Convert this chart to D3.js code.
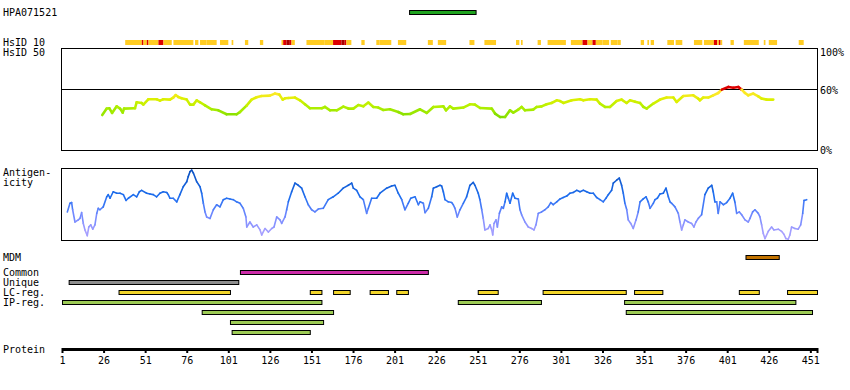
<!DOCTYPE html>
<html lang="en">
<head>
<meta charset="UTF-8">
<title>HPA071521</title>
<script src="https://cdn.jsdelivr.net/npm/d3@7"></script>
<style>
  body { margin: 0; background: #fff; }
  text { font-family: "DejaVu Sans Mono", monospace; font-size: 10px; fill: #000; }
</style>
</head>
<body>
<script>
// ---- data ----
var proteinLength = 455;
var tickValues = [1, 26, 51, 76, 101, 126, 151, 176, 201, 226, 251, 276, 301, 326, 351, 376, 401, 426, 451];

var antigenName = "HPA071521";
var antigenRange = [210, 250];

// [start, end, level] level 0 = partial, 1 = high, 2 = highest
var hsid10 = [
  [39,48,0],[49,49,1],[50,51,0],[52,52,1],[53,58,0],[59,61,1],[62,66,0],[68,79,0],[81,82,0],
  [84,87,0],[88,93,0],[96,100,0],[103,103,0],[111,112,0],[120,121,0],[133,133,0],[134,135,1],
  [136,137,2],[138,138,1],[139,140,0],[148,158,0],[159,163,0],[164,168,1],[169,170,2],[171,171,1],
  [172,174,0],[181,182,0],[190,191,0],[192,198,0],[203,207,0],[221,223,0],[227,231,0],[246,248,0],
  [255,261,0],[274,275,0],[277,277,0],[287,288,0],[293,303,0],[307,313,0],[314,316,1],[317,319,0],
  [320,321,1],[322,325,0],[326,329,0],[331,334,0],[335,336,0],[349,350,0],[353,353,0],[355,356,0],
  [365,368,0],[370,373,0],[381,385,0],[387,392,0],[393,394,1],[395,395,0],[396,396,1],[397,397,0],
  [403,404,0],[411,419,0],[423,423,0],[426,430,0],[444,446,0]
];

// identity (%) along the sequence
var identity = [
  [25.2,34.6],[27.9,40.9],[29.5,41.2],[31.1,36.6],[33.9,43.1],[35.9,40.9],[37.5,37],[38.3,40.9],
  [44.9,41.2],[45.9,47.1],[48.9,46.4],[49.9,44.8],[52.9,50],[57.9,50],[59.9,48.7],[61.9,50],
  [65.9,49.7],[67.9,51.7],[69.4,54.2],[70.9,52.3],[72.9,51],[76,49.7],[78,44.8],[80,44.8],[82,49],
  [84,47.1],[87,44.1],[91,40.2],[95,39.2],[100,35.3],[106,35.3],[108,37.5],[112,43.8],[115,49.7],
  [118,52],[121,53.2],[126,53.6],[129,55.6],[131.7,54.6],[133.7,49.7],[135.1,51],[137.1,51.3],
  [141.1,51.7],[144.1,49],[147.1,45.1],[150.1,41.2],[157.2,41.2],[159.1,42.5],[162.2,39.2],
  [166.2,39.2],[170.2,42.8],[173.2,40.9],[176.2,40.9],[179.2,44.4],[182.2,43.1],[185.2,46.8],
  [188.2,42.5],[191.2,41.9],[194.2,39.5],[198.2,40.2],[203.2,37.5],[206.2,35.3],[210.3,35.6],
  [216.3,40.2],[220.3,36.6],[224.3,42.5],[230.3,43.1],[231.9,39.2],[234.3,43.1],[236.3,40.9],
  [242.3,41.9],[246.3,45.1],[249.3,44.8],[252.4,41.5],[259.4,40.9],[261.4,36],[264.4,32.6],
  [267.4,32.6],[270.4,39.2],[272.4,37],[275.4,39.9],[277.4,42.5],[279.4,39.2],[284.4,39.9],
  [286.4,42.5],[289.4,43.1],[292.4,45.1],[295.4,46.4],[298.5,49],[300.5,48.3],[302.5,46.4],
  [307.5,49],[312.5,50],[314.5,49],[318.5,50],[322.5,49.7],[324.5,45.8],[327.5,42.5],[330.5,42.5],
  [334.5,48.3],[337.5,49.7],[340.5,46.4],[342.6,49],[345.6,47.7],[348.6,46.4],[350.6,42.5],
  [352.6,40.9],[356.6,45.8],[360.6,49.7],[364.6,51.7],[368.6,51.7],[370.6,47.4],[374.6,53.2],
  [380.6,53.9],[383.6,50.7],[384.6,49],[386.6,51.7],[389.6,51.7],[392.6,53.9],[395.6,56.2],
  [397.7,59.5],[401.7,62.1],[404.7,61.4],[407.7,62.1],[409.7,59.5],[411.7,56.2],[413.7,53.9],
  [416.7,55.6],[419.7,52.9],[421.7,50.7],[424.7,49.7],[428.7,49.7]
];

// antigenicity score (0..1)
var antigenicity = [
  [4.2,0.39],[5.8,0.51],[6.8,0.52],[7.4,0.42],[8.8,0.25],[10.8,0.28],[11.8,0.30],[12.8,0.38],
  [13.8,0.23],[14.8,0.14],[16.2,0.06],[17.1,0.18],[18.3,0.21],[19.5,0.15],[20.8,0.21],[21.9,0.37],
  [22.8,0.44],[23.8,0.42],[25.8,0.46],[27.9,0.60],[28.8,0.63],[29.9,0.58],[31.8,0.67],[33.9,0.65],
  [35.9,0.65],[37.9,0.63],[39.5,0.55],[40.9,0.58],[43.9,0.63],[45.9,0.60],[47.5,0.67],[48.9,0.69],
  [51.9,0.65],[53.9,0.64],[55.9,0.63],[57.9,0.60],[59.9,0.65],[61.9,0.67],[64,0.66],[64.9,0.63],
  [65.9,0.58],[67.9,0.58],[70,0.53],[71.9,0.63],[73.9,0.74],[76,0.81],[76.9,0.88],[78,0.95],
  [79,0.97],[80,0.93],[82,0.81],[84,0.74],[85,0.65],[86,0.51],[87,0.39],[88,0.32],[90,0.30],
  [92,0.42],[94,0.49],[96,0.46],[98,0.56],[100,0.58],[102,0.57],[104,0.56],[106,0.53],[108,0.51],
  [110,0.44],[111.6,0.32],[112.1,0.18],[114,0.25],[116,0.18],[118.1,0.21],[120.1,0.14],[121.1,0.07],
  [123.1,0.16],[125.1,0.11],[127.1,0.16],[128.5,0.18],[130.1,0.32],[132.1,0.28],[133.1,0.23],
  [135.1,0.32],[136.1,0.42],[137.1,0.53],[139.1,0.67],[141.1,0.79],[143.1,0.76],[145.1,0.72],
  [147.1,0.60],[149.1,0.49],[151.1,0.42],[153.1,0.39],[155.1,0.43],[158.1,0.44],[161.1,0.56],
  [164.1,0.60],[167.1,0.65],[170.1,0.72],[173.2,0.76],[175.2,0.79],[176.2,0.72],[178.2,0.69],
  [180.2,0.60],[182.2,0.56],[184.2,0.37],[185.2,0.44],[187.2,0.58],[190.2,0.58],[192.2,0.65],
  [196.2,0.72],[199.2,0.75],[201.2,0.76],[203.2,0.65],[205.3,0.56],[207.2,0.42],[209.2,0.51],
  [210.7,0.58],[213.3,0.60],[215.3,0.49],[216.3,0.53],[218.3,0.51],[219.3,0.38],[221.3,0.44],
  [223.3,0.60],[224.3,0.72],[226.3,0.74],[228.3,0.76],[229.3,0.75],[230.3,0.67],[231.3,0.56],
  [233.3,0.53],[235.3,0.52],[236.3,0.49],[237.3,0.44],[238.7,0.32],[240.3,0.42],[242.3,0.51],
  [244.3,0.60],[246.3,0.76],[248.3,0.80],[249.3,0.76],[251.3,0.65],[252.3,0.56],[253.4,0.42],
  [254.3,0.30],[255.3,0.14],[257.3,0.16],[258.4,0.21],[259.4,0.14],[260,0.07],[260.8,0.23],
  [262,0.28],[262.8,0.18],[264,0.37],[265.4,0.46],[266.4,0.44],[267.4,0.53],[268.4,0.65],
  [269.4,0.58],[270.4,0.51],[272,0.65],[273.4,0.58],[275.4,0.57],[276.4,0.42],[277.4,0.35],
  [279.4,0.25],[281.4,0.18],[283.4,0.16],[284.8,0.14],[286,0.21],[287.4,0.37],[289.4,0.39],
  [291.4,0.42],[293.4,0.46],[294.9,0.52],[296.4,0.49],[298.5,0.53],[300.5,0.57],[302.4,0.59],
  [304.5,0.61],[306.5,0.65],[308.4,0.66],[310.5,0.69],[312.5,0.67],[314.5,0.69],[316.5,0.67],
  [318.5,0.65],[320.5,0.65],[322.5,0.59],[324.5,0.56],[326.5,0.53],[328.1,0.58],[329.5,0.63],
  [331.5,0.69],[332.5,0.79],[334.5,0.83],[336.1,0.86],[337.5,0.76],[338.5,0.65],[339.5,0.51],
  [340.6,0.42],[341.5,0.28],[343,0.23],[344.5,0.16],[346.2,0.28],[347.5,0.39],[348.6,0.53],
  [350.5,0.57],[352.2,0.60],[353.5,0.53],[354.6,0.44],[356.6,0.51],[357.6,0.56],[359,0.58],
  [360.6,0.64],[362.6,0.65],[364.2,0.72],[365.6,0.60],[366.6,0.53],[367.6,0.51],[369.6,0.46],
  [371.6,0.37],[372.6,0.25],[373.6,0.14],[374.6,0.21],[375.6,0.28],[377.6,0.25],[379.6,0.23],
  [381,0.18],[382.2,0.25],[383.6,0.30],[385.6,0.35],[387.6,0.63],[389.6,0.72],[391.7,0.76],
  [392.6,0.67],[393.6,0.53],[394.7,0.53],[395.6,0.37],[396.7,0.53],[398.7,0.49],[400.7,0.52],
  [402.7,0.58],[404.3,0.65],[405.7,0.52],[406.7,0.37],[408.3,0.39],[409.7,0.35],[411.7,0.28],
  [413.7,0.25],[414.7,0.30],[416.3,0.39],[417.7,0.42],[419.7,0.37],[420.7,0.32],[421.7,0.21],
  [422.7,0.09],[423.7,0.02],[425.7,0.12],[427.7,0.18],[429.1,0.14],[431.7,0.15],[433.7,0.12],
  [435.1,0.08],[436.3,0.02],[437.7,0.01],[438.7,0.07],[439.7,0.18],[441.7,0.16],[443.7,0.15],
  [445.2,0.21],[446.4,0.37],[447.2,0.55],[448.8,0.56]
];

var mdm = [[412, 432]];
var common = [[108, 221]];
var unique = [[5, 107]];
var lcReg = [[35,102],[150,157],[164,174],[186,197],[202,209],[251,263],[290,340],[345,362],[408,420],[437,455]];
var ipReg = [
  [[1,157],[239,289],[339,442]],
  [[85,164],[340,452]],
  [[102,158]],
  [[103,150]]
];

// ---- drawing ----
var w = 850, h = 390;
var svg = d3.select("body").append("svg")
  .attr("width", w)
  .attr("height", h);

var x = d3.scaleLinear().domain([1, proteinLength]).range([62, 817]);
var yId = d3.scaleLinear().domain([0, 100]).range([150.3, 48.3]);
var yAg = d3.scaleLinear().domain([0, 1]).range([240, 168]);

function label(txt, tx, ty, anchor) {
  svg.append("text").attr("x", tx).attr("y", ty)
    .attr("text-anchor", anchor || "start").text(txt);
}

// antibody bar
label(antigenName, 3, 16);
svg.append("rect")
  .attr("x", x(antigenRange[0])).attr("y", 10.5)
  .attr("width", x(antigenRange[1]) - x(antigenRange[0])).attr("height", 4)
  .attr("fill", "#1fa31f").attr("stroke", "#000").attr("stroke-width", 1);

// HsID 10 strip
label("HsID 10", 3, 46);
label("HsID 50", 3, 56);
var hsColor = ["#ffcc22", "#dd0000", "#a80000"];
svg.selectAll("rect.hs")
  .data(hsid10)
  .enter().append("rect")
  .attr("class", "hs")
  .attr("x", function(d) { return x(d[0]); })
  .attr("y", 40)
  .attr("width", function(d) { return x(d[1] + 1) - x(d[0]); })
  .attr("height", 5)
  .attr("fill", function(d) { return hsColor[d[2]]; });

// identity panel
svg.append("rect")
  .attr("x", 61.5).attr("y", 48.5).attr("width", 756).attr("height", 102)
  .attr("fill", "none").attr("stroke", "#000");
svg.append("line")
  .attr("x1", 61.5).attr("x2", 817.5)
  .attr("y1", Math.round(yId(60)) + 0.5).attr("y2", Math.round(yId(60)) + 0.5)
  .attr("stroke", "#000");
label("100%", 820, 56);
label("60%", 820, 94);
label("0%", 820, 154);

var idColor = d3.scaleLinear()
  .domain([33, 42, 50, 56])
  .range(["#80dd00", "#b0f000", "#ddf000", "#ffe82a"])
  .clamp(true);

var idPairs = d3.pairs(identity);
svg.selectAll("line.id")
  .data(idPairs)
  .enter().append("line")
  .attr("class", "id")
  .attr("x1", function(d) { return x(d[0][0]); })
  .attr("y1", function(d) { return yId(d[0][1]); })
  .attr("x2", function(d) { return x(d[1][0]); })
  .attr("y2", function(d) { return yId(d[1][1]); })
  .attr("stroke-width", 2.6)
  .attr("stroke-linecap", "round")
  .attr("stroke", function(d) {
    var v = (d[0][1] + d[1][1]) / 2;
    return v >= 60 ? "#dd0000" : idColor(v);
  });

// antigenicity panel
label("Antigen-", 3, 176);
label("icity", 3, 186);
svg.append("rect")
  .attr("x", 61.5).attr("y", 168.5).attr("width", 756).attr("height", 72)
  .attr("fill", "none").attr("stroke", "#000");

var agColor = d3.scaleLinear()
  .domain([0.1, 0.35, 0.6, 0.95])
  .range(["#a8a0ff", "#6f88ff", "#1e6ef0", "#0a50c0"])
  .clamp(true);

svg.selectAll("line.ag")
  .data(d3.pairs(antigenicity))
  .enter().append("line")
  .attr("class", "ag")
  .attr("x1", function(d) { return x(d[0][0]); })
  .attr("y1", function(d) { return yAg(d[0][1]); })
  .attr("x2", function(d) { return x(d[1][0]); })
  .attr("y2", function(d) { return yAg(d[1][1]); })
  .attr("stroke-width", 1.6)
  .attr("stroke-linecap", "round")
  .attr("stroke", function(d) { return agColor((d[0][1] + d[1][1]) / 2); });

// feature rows
function featureRow(data, y0, fill) {
  svg.append("g").selectAll("rect")
    .data(data)
    .enter().append("rect")
    .attr("x", function(d) { return x(d[0]) + 0.5; })
    .attr("y", y0 + 0.5)
    .attr("width", function(d) { return x(d[1]) - x(d[0]); })
    .attr("height", 4)
    .attr("fill", fill)
    .attr("stroke", "#000")
    .attr("stroke-width", 1);
}

label("MDM", 3, 261);
label("Common", 3, 276);
label("Unique", 3, 286);
label("LC-reg.", 3, 296);
label("IP-reg.", 3, 306);

featureRow(mdm, 255, "#c27300");
featureRow(common, 270, "#cc2ba8");
featureRow(unique, 280, "#8e8e8e");
featureRow(lcReg, 290, "#f2d52a");
ipReg.forEach(function(row, i) {
  featureRow(row, 300 + i * 10, "#9dcb55");
});

// protein axis
label("Protein", 3, 353);
svg.append("rect")
  .attr("x", x(1)).attr("y", 348)
  .attr("width", x(proteinLength) - x(1) + 1).attr("height", 3)
  .attr("fill", "#000");

var axis = d3.axisBottom(x)
  .tickValues(tickValues)
  .tickSize(5)
  .tickPadding(4)
  .tickFormat(d3.format("d"));

var gAxis = svg.append("g")
  .attr("transform", "translate(0,348)")
  .call(axis);
gAxis.select(".domain").remove();
gAxis.selectAll(".tick line").attr("stroke-width", 2);
gAxis.selectAll(".tick text")
  .style("font-family", "DejaVu Sans Mono, monospace")
  .style("font-size", "10px");
svg.append("line")
  .attr("x1", x(proteinLength) + 0.5).attr("x2", x(proteinLength) + 0.5)
  .attr("y1", 348).attr("y2", 353)
  .attr("stroke", "#000").attr("stroke-width", 2);
</script>
</body>
</html>
